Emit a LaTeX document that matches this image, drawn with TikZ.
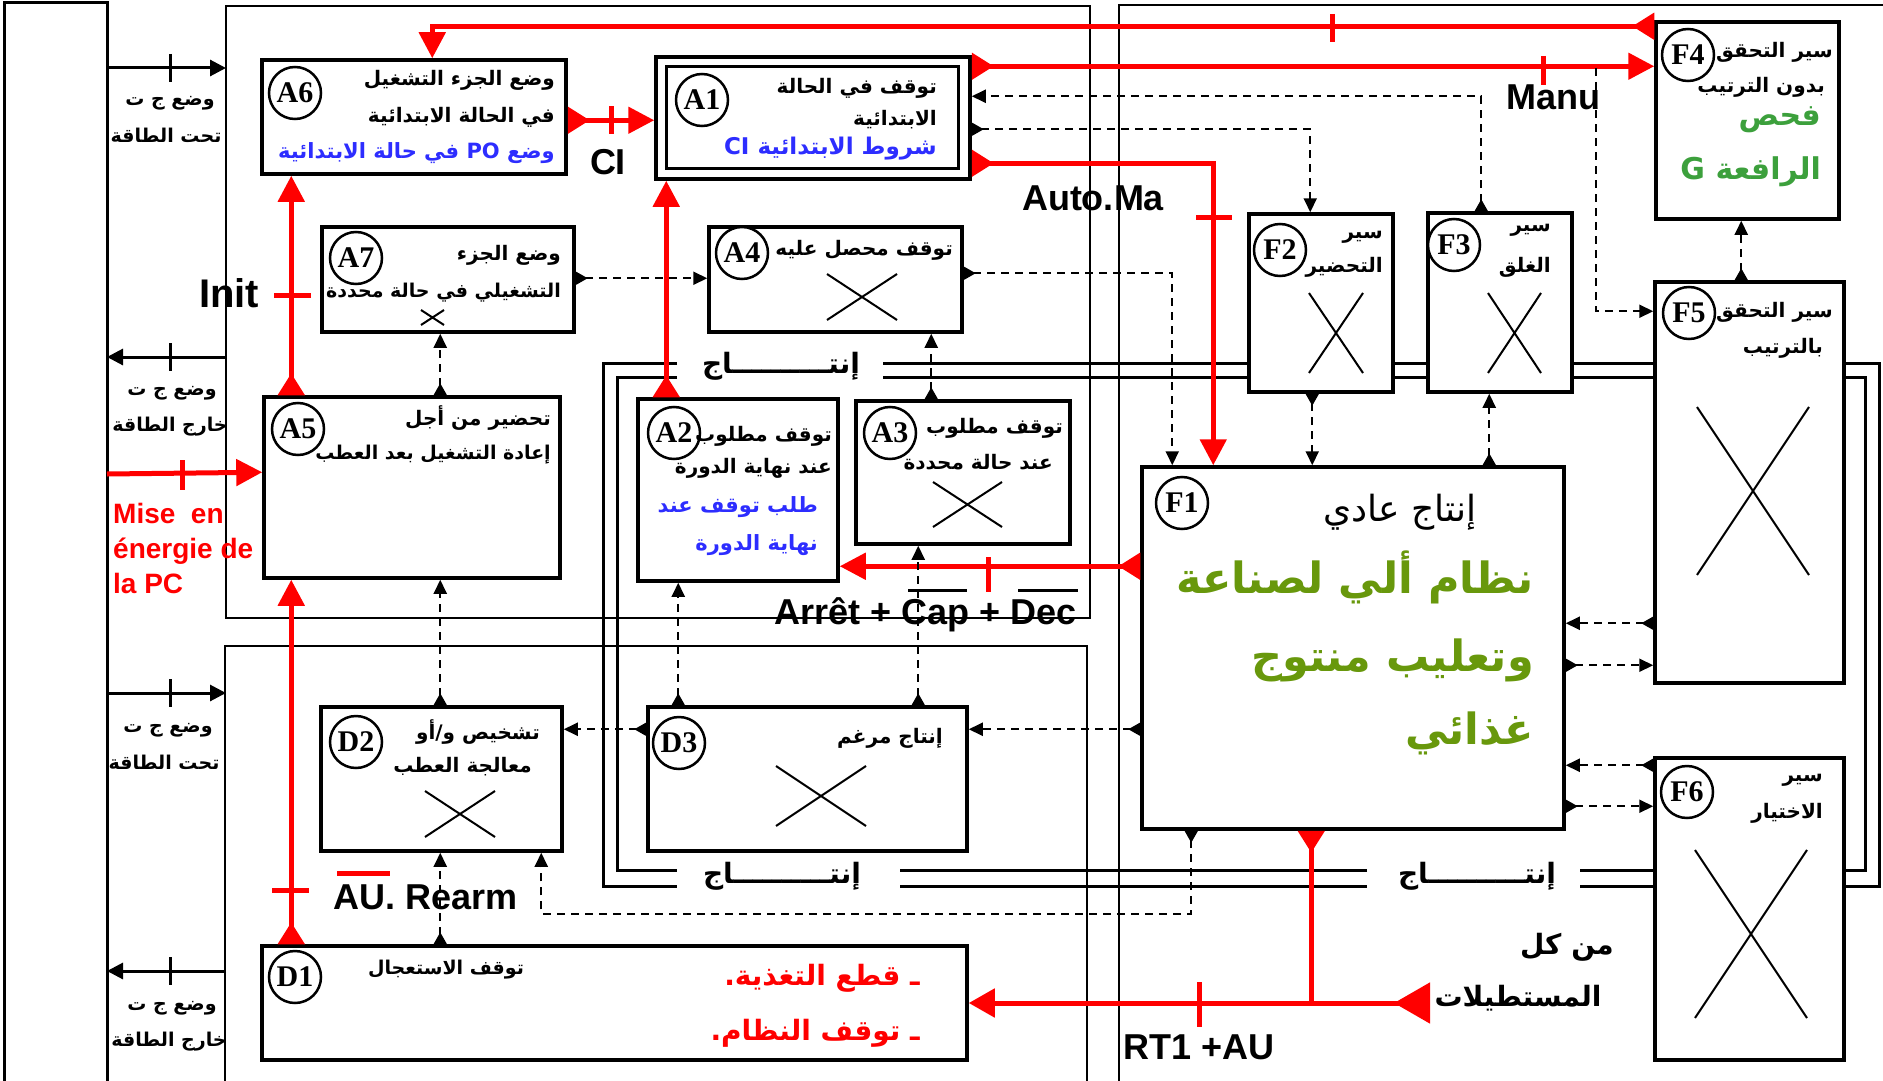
\documentclass[tikz,border=0pt]{standalone}
\usepackage{fontspec}
\setmainfont{Liberation Sans}
\newfontfamily\arabicfont[Script=Arabic]{DejaVu Sans}
\newfontfamily\serifbf{Liberation Serif}
\TeXXeTstate=1
\usetikzlibrary{arrows.meta,calc}
\definecolor{blueT}{RGB}{45,45,255}
\definecolor{greenF}{RGB}{104,152,12}
\definecolor{greenG}{RGB}{60,160,60}
\newcommand\ar[1]{\beginR #1\endR}
\begin{document}
\begin{tikzpicture}[x=1pt,y=-1pt,
 box/.style={draw,line width=3.5pt,fill=white,inner sep=0},
 frm/.style={line width=2.5pt},
 circ/.style={circle,draw,line width=2.5pt,fill=white,minimum size=52pt,inner sep=0,font=\serifbf\bfseries\fontsize{30}{30}\selectfont},
 art/.style={inner sep=0,anchor=east,font=\arabicfont\bfseries\fontsize{20}{24}\selectfont},
 arc/.style={inner sep=0,font=\arabicfont\bfseries\fontsize{19}{24}\selectfont},
 xm/.style={line width=2pt},
 redc/.style={draw=red,line width=5pt,{Triangle[reversed,length=22pt,width=26pt]}-{Triangle[length=26pt,width=26pt]}},
 redE/.style={draw=red,line width=5pt,-{Triangle[length=26pt,width=26pt]}},
 redS/.style={draw=red,line width=5pt,{Triangle[reversed,length=22pt,width=26pt]}-},
 tick/.style={draw=red,line width=5pt},
 dashc/.style={line width=2pt,dash pattern=on 8pt off 6pt,{Triangle[reversed,length=12pt,width=13pt]}-{Triangle[length=14pt,width=13pt]}},
 dashE/.style={line width=2pt,dash pattern=on 8pt off 6pt,-{Triangle[length=14pt,width=13pt]}},
 pw/.style={line width=3pt,-{Triangle[length=16pt,width=16pt]}},
 lab/.style={inner sep=0,font=\bfseries\fontsize{36}{36}\selectfont},
 prod/.style={line width=3pt},
]
\useasboundingbox (0,0) rectangle (1883,1081);
\fill[white] (0,0) rectangle (1883,1081);
% frames
\draw[line width=3pt] (4,1085) -- (4,3) -- (107,3) -- (107,1085);
\draw[frm] (226,6) rectangle (1090,618);
\draw[frm] (225,1085) -- (225,646) -- (1087,646) -- (1087,1085);
\draw[frm] (1119,1085) -- (1119,5) -- (1890,5);
% production lines
\draw[prod] (677,363) -- (603,363) -- (603,886) -- (677,886);
\draw[prod] (883,363) -- (1879,363) -- (1879,886) -- (1580,886);
\draw[prod] (1367,886) -- (900,886);
\draw[prod] (677,377) -- (617,377) -- (617,870) -- (677,870);
\draw[prod] (883,377) -- (1865,377) -- (1865,870) -- (1580,870);
\draw[prod] (1367,870) -- (900,870);
\node[arc,font=\arabicfont\bfseries\fontsize{28}{28}\selectfont] (p1) at (781,366) {\ar{إنتــــــــــاج}};
\node[arc,font=\arabicfont\bfseries\fontsize{28}{28}\selectfont] (p2) at (782,876) {\ar{إنتــــــــــاج}};
\node[arc,font=\arabicfont\bfseries\fontsize{28}{28}\selectfont] (p3) at (1477,876) {\ar{إنتــــــــــاج}};
% boxes
\node[box,minimum width=304pt,minimum height=114pt] (A6) at (414,117) {};
\node[box,minimum width=314pt,minimum height=122pt] (A1) at (813,118) {};
\draw[line width=3pt] ([shift={(12,11)}]A1.north west) rectangle ([shift={(-13,-12)}]A1.south east);
\node[box,minimum width=252pt,minimum height=105pt] (A7) at (448,279.5) {};
\node[box,minimum width=253pt,minimum height=105pt] (A4) at (835.5,279.5) {};
\node[box,minimum width=296pt,minimum height=181pt] (A5) at (412,487.5) {};
\node[box,minimum width=200pt,minimum height=182pt] (A2) at (738,490) {};
\node[box,minimum width=214pt,minimum height=143pt] (A3) at (963,472.5) {};
\node[box,minimum width=241pt,minimum height=144pt] (D2) at (441.5,779) {};
\node[box,minimum width=319pt,minimum height=144pt] (D3) at (807.5,779) {};
\node[box,minimum width=705pt,minimum height=114pt] (D1) at (614.5,1003) {};
\node[box,minimum width=422pt,minimum height=362pt] (F1) at (1353,648) {};
\node[box,minimum width=144pt,minimum height=178pt] (F2) at (1321,303) {};
\node[box,minimum width=144pt,minimum height=179pt] (F3) at (1500,302.5) {};
\node[box,minimum width=183pt,minimum height=197pt] (F4) at (1747.5,120.5) {};
\node[box,minimum width=189pt,minimum height=401pt] (F5) at (1749.5,482.5) {};
\node[box,minimum width=189pt,minimum height=302pt] (F6) at (1749.5,909) {};
% circles
\node[circ] (cA6) at (295,93) {A6};
\node[circ] (cA1) at (702,100) {A1};
\node[circ] (cA7) at (356,258) {A7};
\node[circ] (cA4) at (742,253) {A4};
\node[circ] (cA5) at (298,429) {A5};
\node[circ] (cA2) at (674,433) {A2};
\node[circ] (cA3) at (890,433) {A3};
\node[circ] (cD2) at (356,742) {D2};
\node[circ] (cD3) at (679,743) {D3};
\node[circ] (cD1) at (295,977) {D1};
\node[circ] (cF1) at (1182,503) {F1};
\node[circ] (cF2) at (1280,250) {F2};
\node[circ] (cF3) at (1454,245) {F3};
\node[circ] (cF4) at (1688,55) {F4};
\node[circ] (cF5) at (1689,313) {F5};
\node[circ] (cF6) at (1687,792) {F6};
% crosses
\draw[xm] (421,310) -- (444,325) (421,325) -- (444,310);
\draw[xm] (827,274) -- (897,320) (827,320) -- (897,274);
\draw[xm] (933,482) -- (1002,527) (933,527) -- (1002,482);
\draw[xm] (425,791) -- (495,837) (425,837) -- (495,791);
\draw[xm] (776,766) -- (866,826) (776,826) -- (866,766);
\draw[xm] (1309,293) -- (1363,373) (1309,373) -- (1363,293);
\draw[xm] (1488,293) -- (1541,373) (1488,373) -- (1541,293);
\draw[xm] (1697,407) -- (1809,575) (1697,575) -- (1809,407);
\draw[xm] (1695,850) -- (1807,1018) (1695,1018) -- (1807,850);
% texts A
\node[art] (t6a) at (555,80) {\ar{وضع الجزء التشغيل}};
\node[art] (t6b) at (555,117) {\ar{في الحالة الابتدائية}};
\node[art,text=blueT,font=\arabicfont\bfseries\fontsize{21}{24}\selectfont] (t6c) at (555,153) {\ar{وضع \beginL PO\endL{} في حالة الابتدائية}};
\node[art] (t1a) at (937,88) {\ar{توقف في الحالة}};
\node[art] (t1b) at (937,120) {\ar{الابتدائية}};
\node[art,text=blueT,font=\arabicfont\bfseries\fontsize{23}{24}\selectfont] (t1c) at (937,149) {\ar{شروط الابتدائية \beginL CI\endL}};
\node[art] (t7a) at (561,255) {\ar{وضع الجزء}};
\node[art,font=\arabicfont\bfseries\fontsize{19}{24}\selectfont] (t7b) at (561,293) {\ar{التشغيلي في حالة محددة}};
\node[art] (t4a) at (953,250) {\ar{توقف محصل عليه}};
\node[art] (t5a) at (551,418) {\ar{تحضير من أجل}};
\node[art,font=\arabicfont\bfseries\fontsize{19}{24}\selectfont] (t5b) at (551,455) {\ar{إعادة التشغيل بعد العطب}};
\node[art] (t2a) at (832,436) {\ar{توقف مطلوب}};
\node[art] (t2b) at (832,468) {\ar{عند نهاية الدورة}};
\node[art,text=blueT,font=\arabicfont\bfseries\fontsize{21}{28}\selectfont] (t2c) at (818,507) {\ar{طلب توقف عند}};
\node[art,text=blueT,font=\arabicfont\bfseries\fontsize{21}{28}\selectfont] (t2d) at (818,545) {\ar{نهاية الدورة}};
\node[art] (t3a) at (1063,428) {\ar{توقف مطلوب}};
\node[art] (t3b) at (1053,462) {\ar{عند حالة محددة}};
% texts D
\node[art] (td2a) at (540,732) {\ar{تشخيص و/أو}};
\node[art] (td2b) at (532,767) {\ar{معالجة العطب}};
\node[art] (td3a) at (943,738) {\ar{إنتاج مرغم}};
\node[arc] (td1a) at (446,970) {\ar{توقف الاستعجال}};
\node[art,text=red,font=\arabicfont\bfseries\fontsize{28}{30}\selectfont] (td1b) at (920,978) {\ar{ـ قطع التغذية.}};
\node[art,text=red,font=\arabicfont\bfseries\fontsize{28}{30}\selectfont] (td1c) at (920,1033) {\ar{ـ توقف النظام.}};
% texts F
\node[arc,font=\arabicfont\fontsize{36}{40}\selectfont] (tf1a) at (1400,512) {\ar{إنتاج عادي}};
\node[art,text=greenF,font=\arabicfont\bfseries\fontsize{43}{50}\selectfont] (tf1b) at (1534,577) {\ar{نظام ألي لصناعة}};
\node[art,text=greenF,font=\arabicfont\bfseries\fontsize{43}{50}\selectfont] (tf1c) at (1534,660) {\ar{وتعليب منتوج}};
\node[art,text=greenF,font=\arabicfont\bfseries\fontsize{43}{50}\selectfont] (tf1d) at (1534,733) {\ar{غذائي}};
\node[art] (tf2a) at (1383,237) {\ar{سير}};
\node[art] (tf2b) at (1383,267) {\ar{التحضير}};
\node[art] (tf3a) at (1551,230) {\ar{سير}};
\node[art] (tf3b) at (1551,267) {\ar{الغلق}};
\node[art] (tf4a) at (1833,52) {\ar{سير التحقق}};
\node[art] (tf4b) at (1825,87) {\ar{بدون الترتيب}};
\node[art,text=greenG,font=\arabicfont\bfseries\fontsize{30}{32}\selectfont] (tf4c) at (1821,120) {\ar{فحص}};
\node[art,text=greenG,font=\arabicfont\bfseries\fontsize{30}{32}\selectfont] (tf4d) at (1821,172) {\ar{الرافعة \beginL G\endL}};
\node[art] (tf5a) at (1833,312) {\ar{سير التحقق}};
\node[art] (tf5b) at (1823,348) {\ar{بالترتيب}};
\node[art] (tf6a) at (1823,780) {\ar{سير}};
\node[art] (tf6b) at (1823,813) {\ar{الاختيار}};
% power column
\coordinate (L1) at (107,68); \coordinate (R1) at (226,68);
\coordinate (L2) at (107,357); \coordinate (R2) at (226,357);
\coordinate (L3) at (107,693); \coordinate (R3) at (226,693);
\coordinate (L4) at (107,971); \coordinate (R4) at (226,971);
\coordinate (LM) at (107,474);
\draw[pw] (L1) -- (R1);
\draw[pw] (R2) -- (L2);
\draw[pw] (L3) -- (R3);
\draw[pw] (R4) -- (L4);
\foreach \yy in {68,357,693,971} \draw[line width=3pt] (170,\yy-14) -- (170,\yy+14);
\node[arc] (pl1a) at (170,103) {\ar{وضع ج ت}};
\node[arc] (pl1b) at (166,135) {\ar{تحت الطاقة}};
\node[arc] (pl2a) at (172,393) {\ar{وضع ج ت}};
\node[arc] (pl2b) at (170,427) {\ar{خارج الطاقة}};
\node[arc] (pl3a) at (168,730) {\ar{وضع ج ت}};
\node[arc] (pl3b) at (164,762) {\ar{تحت الطاقة}};
\node[arc] (pl4a) at (172,1008) {\ar{وضع ج ت}};
\node[arc] (pl4b) at (169,1042) {\ar{خارج الطاقة}};
\draw[redE] (LM) -- ([yshift=-77pt]A5.north west);
\draw[tick] (182,460) -- (182,490);
\node[inner sep=0,anchor=west,align=left,text=red,font=\bfseries\fontsize{28}{35}\selectfont] (mise) at (113,548) {Mise\ \ en\\énergie de\\la PC};
% red connectors
\draw[redc] ([yshift=-6pt]F4.north west) -| ([xshift=172pt]A6.north west);
\draw[tick] (1332,14) -- (1332,42);
\draw[redc] ([yshift=-11pt]A1.north east) -- ([yshift=-11pt]A1.north east -| F4.west);
\draw[tick] (1543,56) -- (1543,85);
\node[lab] (manu) at (1553,97) {Manu};
\draw[redc] ([yshift=-108pt]A1.north east) -| ([xshift=73pt]F1.north west);
\draw[tick] (1196,217) -- (1232,217);
\node[lab] (auto) at (1093,198) {Auto.Ma};
\draw[redc] ([yshift=-62pt]A6.north east) -- ([yshift=-62pt]A6.north east -| A1.west);
\draw[tick] (611,106) -- (611,134);
\node[lab] (ci) at (608,162) {CI};
\draw[redc] ([xshift=29pt]A5.north west) -- ([xshift=29pt]A5.north west |- A6.south);
\draw[tick] (274,295) -- (311,295);
\node[lab,font=\bfseries\fontsize{40}{40}\selectfont] (init) at (229,293) {Init};
\draw[redc] ([xshift=30pt]A2.north west) -- ([xshift=30pt]A2.north west |- A1.south);
\draw[redc] ([yshift=-101pt]F1.north west) -- ([yshift=-101pt]F1.north west -| A2.east);
\draw[tick] (988,557) -- (988,592);
\node[lab,anchor=west] (arret) at (774,615) {Arrêt + Cap + Dec};
\draw[line width=3pt] (908,590) -- (967,590) (1018,590) -- (1078,590);
\draw[redc] ([xshift=31pt]D1.north west) -- ([xshift=31pt]D1.north west |- A5.south);
\draw[tick] (272,890) -- (309,890);
\node[lab,anchor=west] (au) at (333,897) {AU. Rearm};
\draw[tick] (337,873) -- (390,873);
\coordinate (allR) at (1430,1003);
\draw[draw=red,line width=5pt,{Triangle[reversed,length=36pt,width=40pt]}-{Triangle[length=26pt,width=28pt]}] (allR) -- (D1.east);
\draw[redS] ([xshift=171pt]F1.south west) -- ([xshift=171pt]F1.south west |- D1.east);
\draw[tick] (1199,982) -- (1199,1027);
\node[lab,anchor=west] (rt1) at (1123,1047) {RT1 +AU};
\node[arc,font=\arabicfont\bfseries\fontsize{28}{30}\selectfont] (mkl1) at (1567,947) {\ar{من كل}};
\node[arc,font=\arabicfont\bfseries\fontsize{28}{30}\selectfont] (mkl2) at (1518,998) {\ar{المستطيلات}};
% dashed connectors
\draw[dashc] ([yshift=-53pt]A7.north east) -- ([yshift=-53pt]A7.north east -| A4.west);
\draw[dashc] ([xshift=178pt]A5.north west) -- ([xshift=178pt]A5.north west |- A7.south);
\draw[dashc] ([yshift=-48pt]A4.north east) -| ([xshift=32pt]F1.north west);
\draw[dashc] ([xshift=77pt]A3.north west) -- ([xshift=77pt]A3.north west |- A4.south);
\draw[dashc] ([xshift=272pt]D3.north west) -- ([xshift=272pt]D3.north west |- A3.south);
\draw[dashc] ([xshift=32pt]D3.north west) -- ([xshift=32pt]D3.north west |- A2.south);
\draw[dashc] ([yshift=-264pt]F1.north west) -- ([yshift=-264pt]F1.north west -| D3.east);
\draw[dashc] ([yshift=-24pt]D3.north west) -- ([yshift=-24pt]D3.north west -| D2.east);
\draw[dashc] ([xshift=121pt]D2.north west) -- ([xshift=121pt]D2.north west |- A5.south);
\draw[dashc] ([xshift=180pt]D1.north west) -- ([xshift=180pt]D1.north west |- D2.south);
\draw[dashc] ([xshift=51pt]F1.south west) -- ++(0,83) -| ([xshift=222pt]D2.south west);
\draw[dashc] ([xshift=55pt]F3.north west) |- ([yshift=-41pt]A1.north east);
\draw[dashc] ([yshift=-74pt]A1.north east) -| ([xshift=63pt]F2.north west);
\coordinate (manuD) at (1596,68);
\draw[dashE] (manuD) |- ([yshift=-31pt]F5.north west);
\draw[dashc] ([xshift=88pt]F5.north west) -- ([xshift=88pt]F5.north west |- F4.south);
\draw[dashc] ([xshift=65pt]F2.south west) -- ([xshift=65pt]F2.south west |- F1.north);
\draw[dashc] ([xshift=349pt]F1.north west) -- ([xshift=349pt]F1.north west |- F3.south);
\draw[dashc] ([yshift=-343pt]F5.north west) -- ([yshift=-343pt]F5.north west -| F1.east);
\draw[dashc] ([yshift=-200pt]F1.north east) -- ([yshift=-200pt]F1.north east -| F5.west);
\draw[dashc] ([yshift=-9pt]F6.north west) -- ([yshift=-9pt]F6.north west -| F1.east);
\draw[dashc] ([yshift=-341pt]F1.north east) -- ([yshift=-341pt]F1.north east -| F6.west);
\end{tikzpicture}
\end{document}
